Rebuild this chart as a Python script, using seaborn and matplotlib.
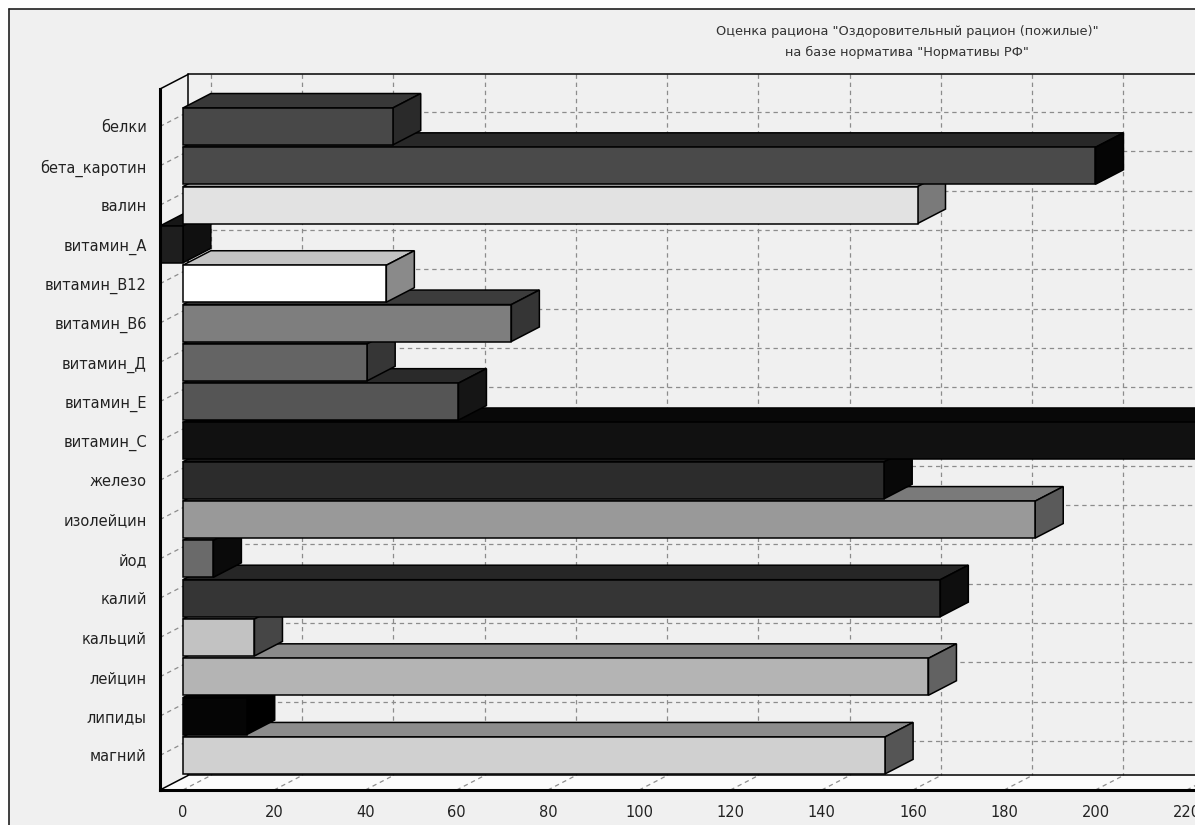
import matplotlib
matplotlib.use("Agg")
import matplotlib.pyplot as plt
import pandas as pd
import seaborn as sns
from matplotlib.patches import Polygon, Rectangle
from matplotlib.lines import Line2D
from matplotlib.ticker import MultipleLocator

# ---- data -------------------------------------------------------------
categories = ["белки", "бета_каротин", "валин", "витамин_А", "витамин_В12",
              "витамин_В6", "витамин_Д", "витамин_Е", "витамин_С", "железо",
              "изолейцин", "йод", "калий", "кальций", "лейцин", "липиды",
              "магний"]
values = [46, 200, 161, -5, 44.6, 72, 40.4, 60.4, 250, 153.7, 186.8, 6.7,
          166, 15.7, 163.4, 14, 153.9]
x_ticks = list(range(0, 221, 20))
title_lines = ['Оценка рациона "Оздоровительный рацион (пожилые)"',
               'на базе норматива "Нормативы РФ"']

# ---- bar shading (front / top / side faces) ---------------------------
front_colors = ["#484848", "#4a4a4a", "#e2e2e2", "#1e1e1e", "#ffffff",
                "#7e7e7e", "#646464", "#555555", "#111111", "#2c2c2c",
                "#999999", "#6a6a6a", "#353535", "#c2c2c2", "#b4b4b4",
                "#050505", "#d0d0d0"]
top_colors = ["#383838", "#282828", "#b0b0b0", "#161616", "#c4c4c4",
              "#3c3c3c", "#3a3a3a", "#2a2a2a", "#080808", "#1a1a1a",
              "#7a7a7a", "#3a3a3a", "#262626", "#8a8a8a", "#8a8a8a",
              "#030303", "#8c8c8c"]
side_colors = ["#2a2a2a", "#050505", "#7a7a7a", "#101010", "#8a8a8a",
               "#353535", "#363636", "#151515", "#050505", "#080808",
               "#5a5a5a", "#0a0a0a", "#0e0e0e", "#464646", "#626262",
               "#000000", "#555555"]

sns.set_style("white")
plt.rcParams["font.family"] = ["DejaVu Sans"]

W, H = 1195, 825
fig = plt.figure(figsize=(W / 100, H / 100), dpi=100)
fig.patch.set_facecolor("white")

# panel background and its frame
fig.add_artist(Rectangle((9 / W, 0), 1, 1 - 9 / H, transform=fig.transFigure,
                         facecolor="#f0f0f0", edgecolor="none", zorder=-10))
fig.add_artist(Line2D([8.5 / W, 8.5 / W], [0, 1 - 8.5 / H], color="#202020",
                      lw=1.2, zorder=-9))
fig.add_artist(Line2D([8.5 / W, 1], [1 - 8.5 / H, 1 - 8.5 / H], color="#202020",
                      lw=1.2, zorder=-9))

# front plane of the 3-D box
ax = fig.add_axes([160 / W, 1 - 790 / H, 1118 / W, 701 / H])
ax.set_facecolor("none")

df = pd.DataFrame({"nutrient": categories, "value": values})
palette = dict(zip(categories, front_colors))
sns.barplot(data=df, x="value", y="nutrient", hue="nutrient", palette=palette,
            legend=False, orient="h", width=0.94, saturation=1,
            edgecolor="black", linewidth=1.1, ax=ax)

x_lo, x_hi = -5, 240
y_top, y_bot = -0.954, 16.88
ax.set_xlim(x_lo, x_hi)
ax.set_ylim(y_bot, y_top)

# depth of the box in data units
dx = 28 / 4.5636
dy = 14.5 / 39.3
far = 262

grid_kw = dict(color="#8c8c8c", lw=0.9, linestyle=(0, (3.5, 3)), zorder=1, clip_on=False)

# floor
ax.add_patch(Polygon([(x_lo, y_bot), (far, y_bot), (far + dx, y_bot - dy),
                      (x_lo + dx, y_bot - dy)], closed=True, facecolor="#fbfbfb",
                     edgecolor="none", zorder=0.5, clip_on=False))

# back wall grid
for t in x_ticks:
    ax.plot([t + dx, t + dx], [y_top - dy, y_bot - dy], **grid_kw)
    ax.plot([t, t + dx], [y_bot, y_bot - dy], **grid_kw)
for i in range(len(categories)):
    ax.plot([x_lo + dx, far], [i - dy, i - dy], **grid_kw)
    ax.plot([x_lo, x_lo + dx], [i, i - dy], **grid_kw)

# box outline
edge_kw = dict(color="black", lw=1.1, zorder=1.5, clip_on=False)
ax.plot([x_lo + dx, far], [y_top - dy, y_top - dy], **edge_kw)
ax.plot([x_lo + dx, x_lo + dx], [y_top - dy, y_bot - dy], **edge_kw)
ax.plot([x_lo + dx, far], [y_bot - dy, y_bot - dy], **edge_kw)
ax.plot([x_lo, x_lo + dx], [y_top, y_top - dy], **edge_kw)
ax.plot([x_lo, x_lo + dx], [y_bot, y_bot - dy], **edge_kw)

# extrude every bar: upper rows are stacked over lower rows
n = len(categories)
for p in ax.patches[:]:
    if not isinstance(p, Rectangle):
        continue
    i = int(round(p.get_y() + p.get_height() / 2))
    base = 2 + (n - i) * 0.05
    x0, x1 = p.get_x(), p.get_x() + p.get_width()
    xl, xr = min(x0, x1), max(x0, x1)
    yt, yb = p.get_y(), p.get_y() + p.get_height()
    p.set_zorder(base + 0.02)
    ax.add_patch(Polygon([(xl, yt), (xr, yt), (xr + dx, yt - dy), (xl + dx, yt - dy)],
                         closed=True, facecolor=top_colors[i], edgecolor="black",
                         lw=1.1, zorder=base + 0.01))
    ax.add_patch(Polygon([(xr, yt), (xr, yb), (xr + dx, yb - dy), (xr + dx, yt - dy)],
                         closed=True, facecolor=side_colors[i], edgecolor="black",
                         lw=1.1, zorder=base + 0.01))

# axes
for s in ("top", "right"):
    ax.spines[s].set_visible(False)
for s in ("left", "bottom"):
    ax.spines[s].set_color("black")
    ax.spines[s].set_linewidth(2.2)
    ax.spines[s].set_zorder(10)

ax.set_xticks(x_ticks)
ax.xaxis.set_minor_locator(MultipleLocator(5))
ax.yaxis.set_minor_locator(MultipleLocator(0.25))
ax.tick_params(axis="y", which="major", length=7, width=1, color="#303030",
               pad=2.5, labelsize=10.5, labelcolor="#222222")
ax.tick_params(axis="y", which="minor", length=3, width=1, color="#505050")
ax.tick_params(axis="x", which="major", length=7, width=1, color="#303030",
               pad=4, labelsize=10.5, labelcolor="#222222")
ax.tick_params(axis="x", which="minor", length=3.5, width=1, color="#505050")
ax.set_xlabel("")
ax.set_ylabel("")

fig.text(907 / W, 1 - 32 / H, title_lines[0], ha="center", va="center",
         fontsize=9.3, color="#333333")
fig.text(907 / W, 1 - 52 / H, title_lines[1], ha="center", va="center",
         fontsize=9.3, color="#333333")

fig.savefig("out.png", dpi=100)
